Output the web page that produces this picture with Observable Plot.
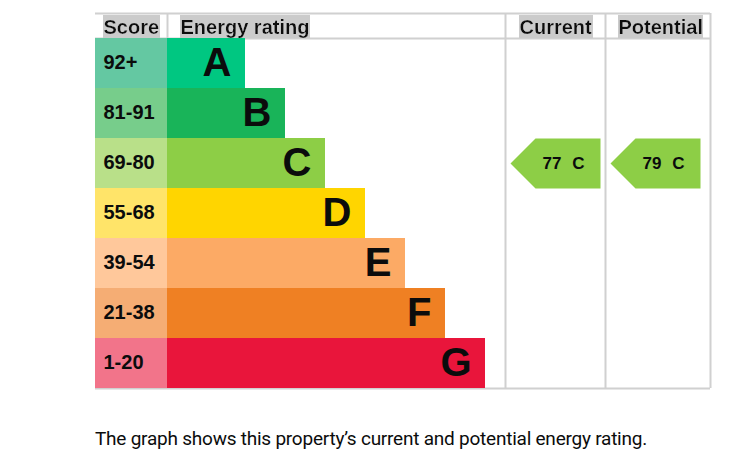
<!DOCTYPE html>
<html><head><meta charset="utf-8">
<script src="https://cdn.jsdelivr.net/npm/d3@7"></script>
<script src="https://cdn.jsdelivr.net/npm/@observablehq/plot@0.6"></script>
<style>
body{margin:0;background:#fff;}
#chart svg{display:block;}
#caption{position:absolute;left:95px;top:429px;margin:0;font:19px Roboto, sans-serif;line-height:1;color:#0b0c0c;white-space:nowrap;}
</style></head><body>
<div id="chart"></div>
<p id="caption">The graph shows this property’s current and potential energy rating.</p>
<script>
// ---- data ----
const bands = ["A", "B", "C", "D", "E", "F", "G"];
const scoreRanges = ["92+", "81-91", "69-80", "55-68", "39-54", "21-38", "1-20"];
const headerLabels = ["Score", "Energy rating", "Current", "Potential"];
const ratingColumns = ["Current", "Potential"];
const ratingScores = [77, 79];
const ratingBands = ["C", "C"];

// ---- styles ----
const barColors = {A: "#00c781", B: "#19b459", C: "#8dce46", D: "#ffd500", E: "#fcaa65", F: "#ef8023", G: "#e9153b"};
const scoreColors = {A: "#64c8a2", B: "#77cd8b", C: "#b9e089", D: "#ffe469", E: "#ffc89b", F: "#f5ad74", G: "#f2748a"};
const INK = "#0b0c0c";
const GRID = "#d0d0d0";
const FONT = "Liberation Sans, Arial, sans-serif";

// ---- layout (chart units) ----
const W = 615, H = 376, HEAD = 25, ROW = 50, SCORE_W = 72, BAR0 = 78, STEP = 40;
const colLeft = {Current: 410, Potential: 510};
const headerX = {"Score": 8, "Energy rating": 85, "Current": 424, "Potential": 523};

const rows = bands.map((b, i) => ({band: b, range: scoreRanges[i], i,
  top: HEAD + ROW * i, bottom: HEAD + ROW * (i + 1), mid: HEAD + ROW * i + ROW / 2,
  end: SCORE_W + BAR0 + STEP * i}));
const headers = headerLabels.map(h => ({label: h, x: headerX[h]}));
const ratings = ratingColumns.map((c, k) => {
  const r = rows[bands.indexOf(ratingBands[k])];
  const L = colLeft[c];
  return {column: c, score: ratingScores[k], band: ratingBands[k], row: r,
    tip: L + 5, body: L + 30, right: L + 95};
});
const arrowMarks = ratings.map(a => Plot.line([
  {x: a.body, y: a.row.top}, {x: a.right, y: a.row.top}, {x: a.right, y: a.row.bottom},
  {x: a.body, y: a.row.bottom}, {x: a.tip, y: a.row.mid}, {x: a.body, y: a.row.top}
], {x: "x", y: "y", fill: barColors[a.band], stroke: null}));

const plot = Plot.plot({
  width: 749, height: 390,
  marginLeft: 95, marginRight: 39, marginTop: 13, marginBottom: 1,
  x: {domain: [0, W], range: [95, 95 + W], axis: null},
  y: {domain: [0, H], range: [13, 13 + H], axis: null},
  color: {type: "identity"},
  style: {background: "#fff", fontFamily: FONT, color: INK},
  marks: [
    Plot.ruleY([0, HEAD, H - 1], {x1: 0, x2: W, stroke: GRID, strokeWidth: 2}),
    Plot.ruleX([colLeft.Current, colLeft.Potential, W], {y1: 0, y2: H - 1, stroke: GRID, strokeWidth: 2}),
    Plot.ruleX([SCORE_W], {y1: 0, y2: HEAD, stroke: GRID, strokeWidth: 2}),
    Plot.rect(rows, {x1: 0, x2: SCORE_W, y1: "top", y2: "bottom", fill: d => scoreColors[d.band]}),
    Plot.rect(rows, {x1: SCORE_W, x2: "end", y1: "top", y2: "bottom", fill: d => barColors[d.band]}),
    Plot.text(rows, {x: 8, y: "mid", dy: -1, text: "range", textAnchor: "start", fontSize: 20, fontWeight: "bold", fill: INK}),
    Plot.text(rows, {x: d => d.end - 14, y: "mid", text: "band", textAnchor: "end", fontSize: 40, fontWeight: "bold", fill: INK}),
    Plot.text(headers, {x: "x", y: 20, text: "label", textAnchor: "start", lineAnchor: "bottom", fontSize: 20, fontWeight: "bold", fill: INK}),
    ...arrowMarks,
    Plot.text(ratings, {x: d => d.right - 39, y: d => d.row.mid, text: d => String(d.score), textAnchor: "end", fontSize: 17, fontWeight: "bold", fill: INK}),
    Plot.text(ratings, {x: d => d.right - 16, y: d => d.row.mid, text: "band", textAnchor: "end", fontSize: 17, fontWeight: "bold", fill: INK})
  ]
});
document.getElementById("chart").append(plot);

// header highlight boxes (text bounding-box background via SVG filter)
const svg = d3.select(plot);
const defs = svg.insert("defs", ":first-child");
const f = defs.append("filter").attr("id", "hl")
  .attr("filterUnits", "objectBoundingBox")
  .attr("x", 0).attr("y", 0).attr("width", 1).attr("height", 1);
f.append("feFlood").attr("flood-color", "#cbcbcb").attr("result", "bg");
f.append("feComposite").attr("in", "SourceGraphic").attr("in2", "bg").attr("operator", "over");
svg.selectAll("text").filter(function () { return headerLabels.includes(this.textContent); })
  .attr("filter", "url(#hl)");

// caption width fit
const cap = document.getElementById("caption");
const w = cap.getBoundingClientRect().width;
const n = cap.textContent.length;
cap.style.letterSpacing = ((552 - w) / n) + "px";
</script></body></html>
